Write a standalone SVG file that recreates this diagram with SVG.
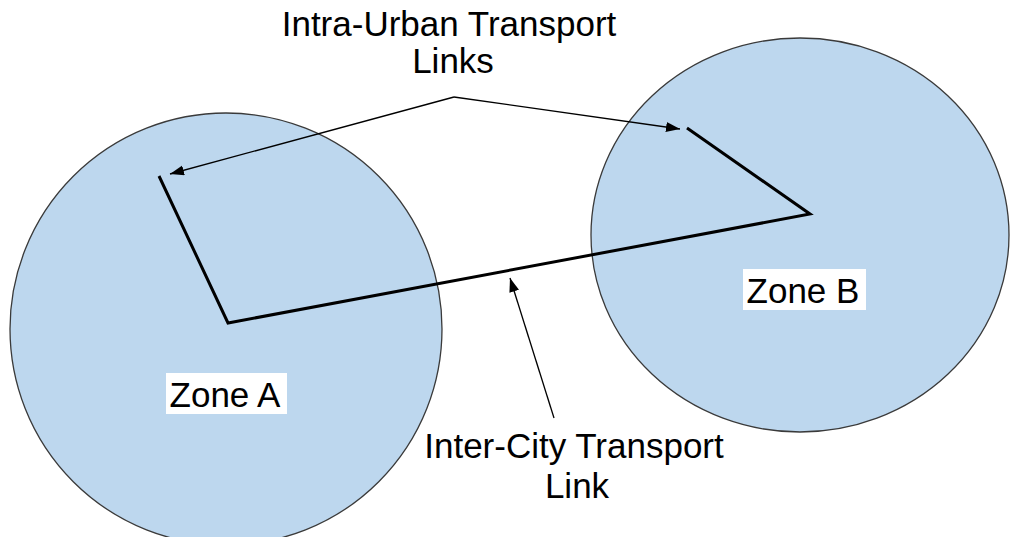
<svg xmlns="http://www.w3.org/2000/svg" width="1013" height="537" viewBox="0 0 1013 537">
  <style>
    .zone { fill: #BDD7EE; stroke: #3a3a3a; stroke-width: 1.3; }
    .route { fill: none; stroke: #000; stroke-width: 3; stroke-linejoin: miter; }
    .pointer { fill: none; stroke: #000; stroke-width: 1.3; }
    .label { font-family: "Liberation Sans", Arial, sans-serif; font-size: 35px; fill: #000; }
    .tag { fill: #fff; }
  </style>
  <defs>
    <marker id="head" markerUnits="userSpaceOnUse" markerWidth="16" markerHeight="12" refX="14" refY="5" orient="auto">
      <path d="M0,0 L14,5 L0,10 Z" fill="#000"/>
    </marker>
  </defs>

  <rect width="1013" height="537" fill="#fff"/>

  <g id="zone-a">
    <circle class="zone" cx="226" cy="329" r="216"/>
    <rect class="tag" x="166" y="373" width="121" height="41"/>
    <text class="label" x="225" y="407" text-anchor="middle">Zone A</text>
  </g>

  <g id="zone-b">
    <ellipse class="zone" cx="800" cy="235" rx="209" ry="197"/>
    <rect class="tag" x="743" y="269" width="123" height="41"/>
    <text class="label" x="803" y="303" text-anchor="middle">Zone B</text>
  </g>

  <g id="routes">
    <polyline class="route" points="159,176 228,323 810,214 687,128"/>
  </g>

  <g id="title-intra">
    <text class="label" x="449" y="36" text-anchor="middle">Intra-Urban Transport</text>
    <text class="label" x="453" y="73" text-anchor="middle">Links</text>
  </g>

  <g id="title-inter">
    <text class="label" x="574" y="458" text-anchor="middle">Inter-City Transport</text>
    <text class="label" x="577" y="498" text-anchor="middle">Link</text>
  </g>

  <g id="connectors">
    <line class="pointer" x1="454" y1="97" x2="170" y2="174" marker-end="url(#head)"/>
    <line class="pointer" x1="454" y1="97" x2="680" y2="129" marker-end="url(#head)"/>
    <line class="pointer" x1="554" y1="418" x2="510" y2="278" marker-end="url(#head)"/>
  </g>
</svg>
